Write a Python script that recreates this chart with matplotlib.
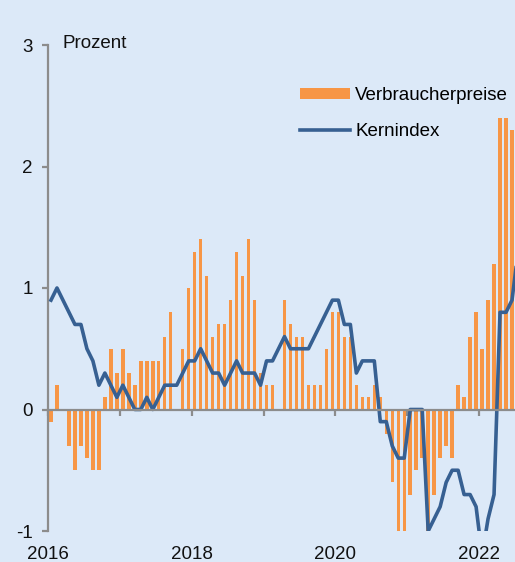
import numpy as np
import matplotlib
matplotlib.use("Agg")
import matplotlib.pyplot as plt

# ---- data (monthly, starting January 2016) ----
start_year = 2016
verbraucherpreise = [
    -0.1, 0.2, 0.0, -0.3, -0.5, -0.3, -0.4, -0.5, -0.5, 0.1, 0.5, 0.3,   # 2016
    0.5, 0.3, 0.2, 0.4, 0.4, 0.4, 0.4, 0.6, 0.8, 0.0, 0.5, 1.0,          # 2017
    1.3, 1.4, 1.1, 0.6, 0.7, 0.7, 0.9, 1.3, 1.1, 1.4, 0.9, 0.3,          # 2018
    0.2, 0.2, 0.0, 0.9, 0.7, 0.6, 0.6, 0.2, 0.2, 0.2, 0.5, 0.8,          # 2019
    0.8, 0.6, 0.6, 0.2, 0.1, 0.1, 0.2, 0.1, -0.2, -0.6, -1.0, -1.0,      # 2020
    -0.7, -0.5, -0.4, -1.1, -0.7, -0.4, -0.3, -0.4, 0.2, 0.1, 0.6, 0.8,  # 2021
    0.5, 0.9, 1.2, 2.4, 2.4, 2.3,                                        # 2022
]
kernindex = [
    0.9, 1.0, 0.9, 0.8, 0.7, 0.7, 0.5, 0.4, 0.2, 0.3, 0.2, 0.1,          # 2016
    0.2, 0.1, 0.0, 0.0, 0.1, 0.0, 0.1, 0.2, 0.2, 0.2, 0.3, 0.4,          # 2017
    0.4, 0.5, 0.4, 0.3, 0.3, 0.2, 0.3, 0.4, 0.3, 0.3, 0.3, 0.2,          # 2018
    0.4, 0.4, 0.5, 0.6, 0.5, 0.5, 0.5, 0.5, 0.6, 0.7, 0.8, 0.9,          # 2019
    0.9, 0.7, 0.7, 0.3, 0.4, 0.4, 0.4, -0.1, -0.1, -0.3, -0.4, -0.4,     # 2020
    0.0, 0.0, 0.0, -1.0, -0.9, -0.8, -0.6, -0.5, -0.5, -0.7, -0.7, -0.8, # 2021
    -1.2, -0.9, -0.7, 0.8, 0.8, 0.9, 1.3,                                # 2022
]
year_ticks = [2016, 2017, 2018, 2019, 2020, 2021, 2022]
year_label_ticks = [2016, 2018, 2020, 2022]
year_labels = ["2016", "2018", "2020", "2022"]
y_ticks = [-1, 0, 1, 2, 3]
y_labels = ["-1", "0", "1", "2", "3"]
series_names = ["Verbraucherpreise", "Kernindex"]
unit_label = "Prozent"

# ---- style ----
bg = "#DCE9F8"
orange = "#F79646"
blue = "#376092"
grey = "#8C8C8C"
fs = 13.5

plt.rcParams["font.family"] = ["Liberation Sans", "DejaVu Sans"]

W, H = 515, 562
fig = plt.figure(figsize=(W / 100, H / 100), dpi=100, facecolor=bg)
ax = fig.add_axes([48 / W, 31 / H, 1 - 48 / W, (531 - 45) / H])
ax.set_facecolor(bg)

x_cpi = start_year + (np.arange(len(verbraucherpreise)) + 0.5) / 12
x_core = start_year + (np.arange(len(kernindex)) + 0.5) / 12

bars = ax.bar(x_cpi, verbraucherpreise, width=0.58 / 12, color=orange,
              label=series_names[0], zorder=2, linewidth=0)
line, = ax.plot(x_core, kernindex, color=blue, lw=2.6,
                label=series_names[1], zorder=3)

ax.set_xlim(2016, 2022.5)
ax.set_ylim(-1, 3)

for s in ("top", "right"):
    ax.spines[s].set_visible(False)
ax.spines["bottom"].set_position(("data", 0))
ax.spines["bottom"].set_color(grey)
ax.spines["bottom"].set_linewidth(1.6)
ax.spines["left"].set_color(grey)
ax.spines["left"].set_linewidth(1.6)
ax.spines["bottom"].set_zorder(4)

ax.set_xticks(year_ticks)
ax.set_xticklabels([])
ax.tick_params(axis="x", direction="out", length=4, width=1.6, color=grey)

ax.set_yticks(y_ticks)
ax.set_yticklabels(y_labels)
ax.tick_params(axis="y", direction="out", length=4, width=1.6, color=grey,
               pad=7, labelsize=fs, labelcolor="#111111")

sec = ax.secondary_xaxis(0.0)
sec.set_xticks(year_label_ticks)
sec.set_xticklabels(year_labels)
sec.tick_params(length=0, pad=11, labelsize=fs, labelcolor="#111111")
sec.spines["bottom"].set_visible(False)

ax.text((62 - 48) / (W - 48), (531 - 43.5) / 486, unit_label,
        transform=ax.transAxes, fontsize=fs, va="center", ha="left",
        color="#111111", clip_on=False)

ax.legend(handles=[bars, line], labels=series_names,
          loc="upper left", bbox_to_anchor=(300 / W, 1 - 87 / H),
          bbox_transform=fig.transFigure, frameon=False,
          handlelength=2.65, handleheight=0.55, handletextpad=0.3,
          labelspacing=1.02, borderpad=0, borderaxespad=0, fontsize=fs)

fig.savefig("out.png", dpi=100, facecolor=bg)
